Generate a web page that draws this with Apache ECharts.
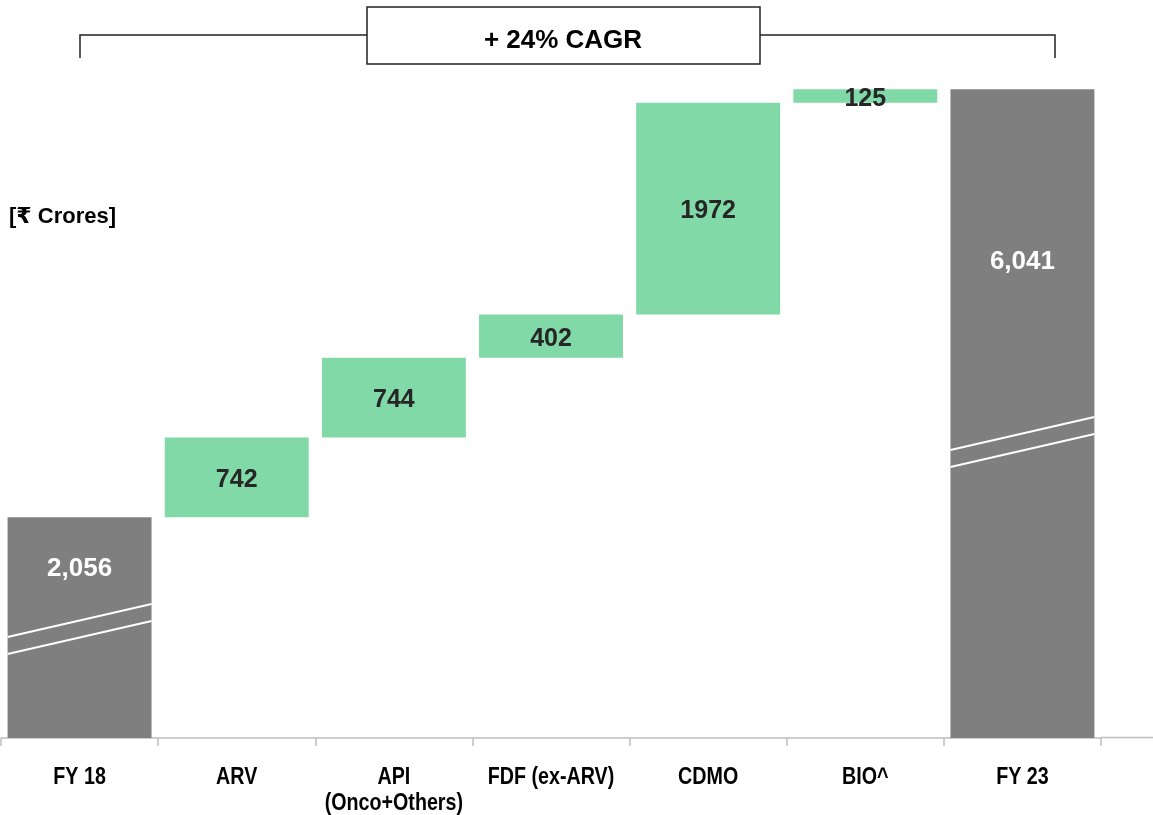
<!DOCTYPE html>
<html>
<head>
<meta charset="utf-8">
<title>Revenue bridge FY 18 to FY 23</title>
<script src="https://cdn.jsdelivr.net/npm/echarts@6/dist/echarts.min.js"></script>
<style>
  html, body { margin: 0; padding: 0; background: #ffffff; }
  #chart { width: 1153px; height: 815px; }
</style>
</head>
<body>
<div id="chart"></div>
<script>
// Bridge categories and values, in ₹ crores
const categories = ['FY 18', 'ARV', 'API\n(Onco+Others)', 'FDF (ex-ARV)', 'CDMO', 'BIO^', 'FY 23'];
const openingTotal = 2056;
const increments = [742, 744, 402, 1972, 125];
const closingTotal = 6041;
const cagrText = '+ 24% CAGR';
const unitText = '[₹ Crores]';
// Axis-break slashes on the total bars: [category index, value at left edge, value at right edge]
const breakMarks = [[0, 940, 1247], [6, 2682, 2989]];

const GREEN = '#82d9a8';
const GREY = '#7f7f7f';
const AXIS = '#bfbfbf';
const GAP = 0.084;
const SANS = "'Liberation Sans', Arial, Helvetica, sans-serif";
const AXIS_Y = 737.5;

// Build the invisible base and the visible steps of the waterfall
const baseData = ['-'];
const stepData = ['-'];
let running = openingTotal;
increments.forEach(v => {
  baseData.push(running);
  stepData.push(v);
  running += v;
});
baseData.push('-');
stepData.push('-');

const totalData = categories.map((c, i) => {
  if (i === 0) return { value: openingTotal, label: { distance: 39 } };
  if (i === categories.length - 1) return { value: closingTotal, label: { distance: 160 } };
  return '-';
});

const fmtThousands = v => String(v).replace(/\B(?=(\d{3})+(?!\d))/g, ',');

const chart = echarts.init(document.getElementById('chart'), null, { renderer: 'canvas' });

chart.setOption({
  animation: false,
  backgroundColor: '#ffffff',
  grid: { left: 1, right: 52, top: 40, bottom: 77, containLabel: false },
  xAxis: {
    type: 'category',
    data: categories,
    axisLine: { show: true, lineStyle: { color: AXIS, width: 1.5 } },
    axisTick: { show: true, length: 8, lineStyle: { color: AXIS, width: 1.5 } },
    // category names are drawn condensed by the 'categoryLabels' series below
    axisLabel: { show: false }
  },
  yAxis: { type: 'value', min: 0, max: 6500, show: false },
  series: [
    {
      name: 'base',
      type: 'bar',
      stack: 'bridge',
      barCategoryGap: (GAP * 100) + '%',
      itemStyle: { color: 'transparent' },
      emphasis: { disabled: true },
      data: baseData
    },
    {
      name: 'increase',
      type: 'bar',
      stack: 'bridge',
      itemStyle: { color: GREEN },
      label: {
        show: true,
        position: 'inside',
        offset: [0, 3],
        color: '#262626',
        fontFamily: SANS,
        fontWeight: 'bold',
        fontSize: 25
      },
      data: stepData
    },
    {
      name: 'total',
      type: 'bar',
      barGap: '-100%',
      itemStyle: { color: GREY },
      label: {
        show: true,
        position: 'insideTop',
        color: '#ffffff',
        fontFamily: SANS,
        fontWeight: 'bold',
        fontSize: 26,
        lineHeight: 26,
        formatter: p => fmtThousands(p.value)
      },
      data: totalData
    },
    {
      // Double slash marking the broken scale on the total bars
      name: 'break',
      type: 'custom',
      z: 10,
      silent: true,
      encode: { x: 0, y: [1, 2] },
      renderItem: (params, api) => {
        const idx = api.value(0);
        const pl = api.coord([idx, api.value(1)]);
        const pr = api.coord([idx, api.value(2)]);
        const w = api.size([1, 0])[0] * (1 - GAP);
        const xl = pl[0] - w / 2;
        const xr = pl[0] + w / 2;
        const style = { stroke: '#ffffff', lineWidth: 2 };
        return {
          type: 'group',
          children: [
            { type: 'line', shape: { x1: xl, y1: pl[1], x2: xr, y2: pr[1] }, style },
            { type: 'line', shape: { x1: xl, y1: pl[1] + 17, x2: xr, y2: pr[1] + 17 }, style }
          ]
        };
      },
      data: breakMarks
    },
    {
      // Condensed bold category names under the axis
      name: 'categoryLabels',
      type: 'custom',
      silent: true,
      clip: false,
      encode: { x: 0, y: 1 },
      renderItem: (params, api) => {
        const p = api.coord([api.value(0), 0]);
        return {
          type: 'text',
          x: p[0],
          y: p[1] + 26,
          scaleX: 0.82,
          style: {
            text: categories[params.dataIndex],
            fill: '#000000',
            font: "bold 24px 'Liberation Sans', Arial, sans-serif",
            lineHeight: 26,
            align: 'center',
            verticalAlign: 'top'
          }
        };
      },
      data: categories.map((c, i) => [i, 0])
    }
  ],
  graphic: [
    // axis line continues past the last category
    { type: 'line', shape: { x1: 1101, y1: AXIS_Y, x2: 1153, y2: AXIS_Y }, style: { stroke: AXIS, lineWidth: 1.5 } },
    // CAGR bracket
    { type: 'polyline', shape: { points: [[80, 58], [80, 35], [367, 35]] }, style: { stroke: '#222222', lineWidth: 1.5, fill: null } },
    { type: 'polyline', shape: { points: [[760, 35], [1055, 35], [1055, 58]] }, style: { stroke: '#222222', lineWidth: 1.5, fill: null } },
    { type: 'rect', shape: { x: 367, y: 7, width: 393, height: 57 }, style: { stroke: '#222222', lineWidth: 1.5, fill: '#ffffff' } },
    {
      type: 'text', x: 563, y: 41,
      style: { text: cagrText, fill: '#000000', font: "bold 26px 'Liberation Sans', Arial, sans-serif", align: 'center', verticalAlign: 'middle' }
    },
    {
      type: 'text', x: 9, y: 217,
      style: { text: unitText, fill: '#000000', font: "bold 22px 'Liberation Sans', Arial, 'DejaVu Sans', 'Noto Sans', sans-serif", align: 'left', verticalAlign: 'middle' }
    }
  ]
});
</script>
</body>
</html>
